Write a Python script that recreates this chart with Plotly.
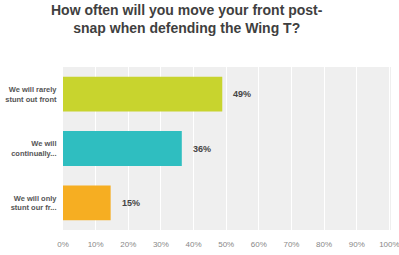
import plotly.graph_objects as go

categories = ["<b>We will rarely<br>stunt out front</b>", "<b>We will<br>continually...</b>", "<b>We will only<br>stunt our fr...</b>"]
values = [48.8, 36.4, 14.6]
value_labels = ["49%", "36%", "15%"]
colors = ["#C8D42E", "#2FBEC0", "#F6AE22"]
tick_vals = [0, 10, 20, 30, 40, 50, 60, 70, 80, 90, 100]
tick_text = ["0%", "10%", "20%", "30%", "40%", "50%", "60%", "70%", "80%", "90%", "100%"]

fig = go.Figure()
fig.add_trace(go.Bar(
    y=categories, x=values, orientation="h",
    marker=dict(color=colors, line=dict(width=0)),
    width=0.64, hoverinfo="skip",
))
for c, v, t in zip(categories, values, value_labels):
    fig.add_annotation(x=v, y=c, text="<b>" + t + "</b>", showarrow=False,
                       xanchor="left", xshift=9,
                       font=dict(family="Liberation Sans, Arial", size=9, color="#444444"))

fig.add_annotation(text="<b>How often will you move your front post-<br>snap when defending the Wing T?</b>",
                   xref="paper", yref="paper", x=(187 - 63) / 328, y=1 + 67 / 163,
                   xanchor="center", yanchor="top", showarrow=False, align="center",
                   font=dict(family="Liberation Sans, Arial", size=14, color="#3F3F3F"))

fig.update_layout(
    width=399, height=255,
    margin=dict(l=63, r=8, t=67, b=25),
    paper_bgcolor="white", plot_bgcolor="#EFEFEF",
    showlegend=False,
    font=dict(family="Liberation Sans, Arial"),
)
fig.update_xaxes(range=[0, 100.5], tickvals=tick_vals, ticktext=tick_text,
                 showgrid=True, gridcolor="white", gridwidth=1, zeroline=False,
                 tickfont=dict(size=8, color="#888888"), ticks="outside", ticklen=6,
                 tickcolor="rgba(0,0,0,0)", ticklabeloverflow="allow",
                 automargin=False, fixedrange=True)
fig.update_yaxes(autorange="reversed", tickfont=dict(size=7.5, color="#555555"),
                 ticks="outside", ticklen=4, tickcolor="rgba(0,0,0,0)",
                 automargin=False, fixedrange=True)

fig.write_html("out.html", config=dict(displayModeBar=False))
